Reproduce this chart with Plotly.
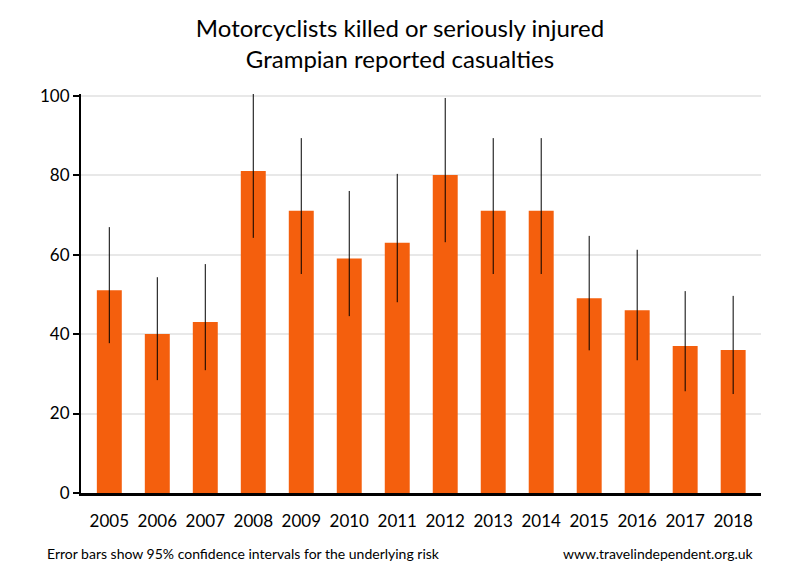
import plotly.graph_objects as go

years = ["2005", "2006", "2007", "2008", "2009", "2010", "2011", "2012", "2013", "2014", "2015", "2016", "2017", "2018"]
casualties = [51, 40, 43, 81, 71, 59, 63, 80, 71, 71, 49, 46, 37, 36]
ci_upper = [66.9, 54.3, 57.6, 100.8, 89.3, 76.0, 80.3, 99.4, 89.3, 89.3, 64.7, 61.2, 50.8, 49.6]
ci_lower = [37.7, 28.4, 30.9, 64.2, 55.1, 44.5, 48.0, 63.1, 55.1, 55.1, 35.9, 33.4, 25.6, 24.9]
y_ticks = [0, 20, 40, 60, 80, 100]

err_plus = [u - v for u, v in zip(ci_upper, casualties)]
err_minus = [v - l for v, l in zip(casualties, ci_lower)]

FONT = "Lato"

fig = go.Figure()
fig.add_trace(go.Bar(
    x=years, y=casualties,
    marker=dict(color="#F45F0D", line=dict(width=0)),
    width=0.52,
    error_y=dict(type="data", array=err_plus, arrayminus=err_minus,
                 color="black", thickness=1, width=0, visible=True),
    hoverinfo="x+y",
))

fig.update_layout(
    width=800, height=580,
    margin=dict(l=81, r=39, t=94, b=87),
    paper_bgcolor="white", plot_bgcolor="white",
    showlegend=False,
    font=dict(family=FONT, color="black", size=16),
    title=dict(text="Motorcyclists killed or seriously injured<br>Grampian reported casualties",
               x=0.5, xanchor="center", xref="container",
               y=1 - 37 / 580, yanchor="middle", yref="container",
               font=dict(family=FONT, size=24, color="black")),
)
fig.update_xaxes(
    type="category", range=[-0.59, 13.58],
    showline=True, linecolor="black", linewidth=2.5,
    ticks="", showgrid=False,
    tickfont=dict(family=FONT, size=17, color="black"),
    ticklabelstandoff=11,
)
fig.update_yaxes(
    range=[0, 100.4], tickvals=y_ticks,
    showline=True, linecolor="black", linewidth=2,
    ticks="outside", ticklen=6, tickwidth=1.5, tickcolor="black",
    showgrid=True, gridcolor="#E8E8E8", gridwidth=1.5,
    zeroline=False,
    tickfont=dict(family=FONT, size=17, color="black"),
)
fig.add_annotation(text="Error bars show 95% confidence intervals for the underlying risk",
                   xref="paper", yref="paper", x=-0.053, y=-0.152, xanchor="left", yanchor="middle",
                   showarrow=False, font=dict(family=FONT, size=14, color="black"))
fig.add_annotation(text="www.travelindependent.org.uk",
                   xref="paper", yref="paper", x=0.992, y=-0.152, xanchor="right", yanchor="middle",
                   showarrow=False, font=dict(family=FONT, size=14, color="black"))

fig.write_html("out.html", config={"displayModeBar": False},
               post_script="document.body.style.margin='0px';")
